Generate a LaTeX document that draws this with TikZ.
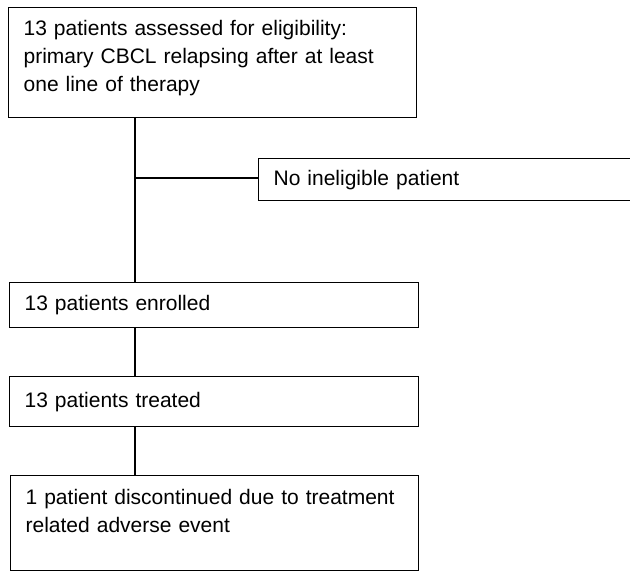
\documentclass[tikz,border=0pt]{standalone}
\usepackage{fontspec}
\setmainfont{Liberation Sans}
\usetikzlibrary{positioning}

\newcommand{\padline}[1]{\\[#1]\mbox{}}

\begin{document}
\begin{tikzpicture}[x=1pt, y=-1pt,
    box/.style={draw, line width=1.3pt, anchor=north west, align=left,
      inner xsep=15pt, inner ysep=0pt, text width=#1,
      font=\fontsize{21}{28}\selectfont},
    link/.style={line width=1.3pt}]
    \clip (0,0) rectangle (630,571);
    % boxes
    \node [box=378pt, minimum height=110pt] (assessed) at (8,7)
      {13 patients assessed for eligibility:\\primary CBCL relapsing after at least\\one line of therapy\padline{-15pt}};
    \node [box=376pt, minimum height=42pt] (inelig) at (258,158) {No ineligible patient};
    \node [box=379pt, minimum height=45pt] (enrolled) at (9,282) {13 patients enrolled};
    \node [box=379pt, minimum height=50pt] (treated) at (9,376) {13 patients treated};
    \node [box=378pt, minimum height=95pt] (discont) at (10,475)
      {1 patient discontinued due to treatment\\related adverse event\padline{-3pt}};
    % connectors
    \coordinate (branch) at (135,178);
    \draw [link] (assessed.south -| branch) -- (enrolled.north -| branch);
    \draw [link] (branch) -- (inelig.west |- branch);
    \draw [link] (enrolled.south -| branch) -- (treated.north -| branch);
    \draw [link] (treated.south -| branch) -- (discont.north -| branch);
\end{tikzpicture}
\end{document}
